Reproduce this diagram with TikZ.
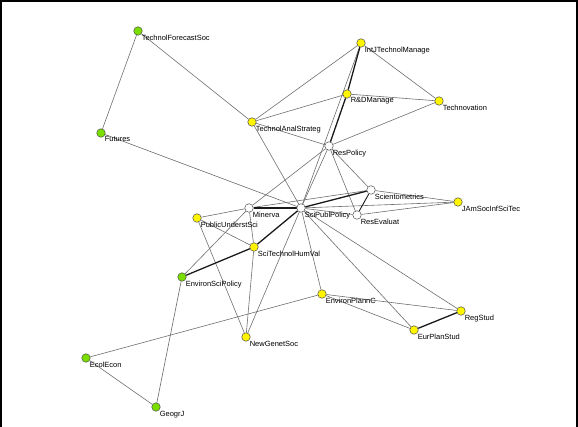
\documentclass[tikz,border=0pt]{standalone}
\usepackage{fontspec}
\setmainfont{Liberation Sans}
\usetikzlibrary{backgrounds}
\definecolor{nodegreen}{RGB}{122,222,0}
\definecolor{nodeyellow}{RGB}{255,245,0}
\definecolor{edgegray}{RGB}{110,110,110}

\begin{document}
\begin{tikzpicture}[x=1pt,y=-1pt,
  jnl/.style={circle,draw=black!70,line width=0.5pt,minimum size=8.5pt,inner sep=0pt},
  grn/.style={jnl,fill=nodegreen},
  yel/.style={jnl,fill=nodeyellow},
  wht/.style={jnl,fill=white},
  lbl/.style={font=\fontsize{7.5}{8}\selectfont,inner sep=0.4pt,text=black},
  link/.style={draw=edgegray,line width=0.6pt},
  strong/.style={draw=black!90,line width=1.3pt}]
\useasboundingbox (0,0) rectangle (578,427);
% frame
\draw[line width=2pt] (1,427) -- (1,1) -- (577,1) -- (577,427);

% Journals
\node[grn,label={[lbl]south east:TechnolForecastSoc}] (TFS) at (138,31) {};
\node[grn,label={[lbl]south east:Futures}] (Fut) at (101,133) {};
\node[yel,label={[lbl]south east:TechnolAnalStrateg}] (TAS) at (252,122) {};
\node[yel,label={[lbl]south east:IntJTechnolManage}] (IJTM) at (361,43) {};
\node[yel,label={[lbl]south east:R\&DManage}] (RDM) at (347,94) {};
\node[yel,label={[lbl]south east:Technovation}] (Tnov) at (439,101) {};
\node[wht,label={[lbl]south east:ResPolicy}] (RP) at (329,146) {};
\node[wht,label={[lbl]south east:Scientometrics}] (Scim) at (371,190) {};
\node[yel,label={[lbl]south east:JAmSocInfSciTec}] (JAm) at (458,202) {};
\node[wht,label={[lbl]south east:ResEvaluat}] (ResE) at (357,215) {};
\node[wht,label={[lbl]south east:SciPublPolicy}] (SPP) at (301,208) {};
\node[wht,label={[lbl]south east:Minerva}] (Min) at (249,208) {};
\node[yel,label={[lbl]south east:PublicUnderstSci}] (PUS) at (197,218) {};
\node[yel,label={[lbl]south east:SciTechnolHumVal}] (STHV) at (254,247) {};
\node[grn,label={[lbl]south east:EnvironSciPolicy}] (ESP) at (182,277) {};
\node[yel,label={[lbl]south east:EnvironPlannC}] (EPC) at (322,294) {};
\node[yel,label={[lbl]south east:NewGenetSoc}] (NGS) at (246,337) {};
\node[yel,label={[lbl]south east:EurPlanStud}] (EPS) at (414,330) {};
\node[yel,label={[lbl]south east:RegStud}] (RegS) at (461,311) {};
\node[grn,label={[lbl]south east:EcolEcon}] (EcE) at (86,358) {};
\node[grn,label={[lbl]south east:GeogrJ}] (GJ) at (156,407) {};

\begin{scope}[on background layer]
% weak links
\draw[link] (TFS) -- (Fut);
\draw[link] (TFS) -- (TAS);
\draw[link] (Fut) -- (SPP);
\draw[link] (TAS) -- (IJTM);
\draw[link] (TAS) -- (RDM);
\draw[link] (TAS) -- (RP);
\draw[link] (TAS) -- (SPP);
\draw[link] (IJTM) -- (Tnov);
\draw[link] (IJTM) -- (SPP);
\draw[link] (RDM) -- (Tnov);
\draw[link] (Tnov) -- (RP);
\draw[link] (RP) -- (SPP);
\draw[link] (RP) -- (Min);
\draw[link] (RP) -- (Scim);
\draw[link] (RP) -- (ResE);
\draw[link] (Min) -- (PUS);
\draw[link] (Min) -- (Scim);
\draw[link] (Min) -- (ESP);
\draw[link] (Min) -- (STHV);
\draw[link] (PUS) -- (STHV);
\draw[link] (PUS) -- (NGS);
\draw[link] (STHV) -- (NGS);
\draw[link] (SPP) -- (NGS);
\draw[link] (SPP) -- (JAm);
\draw[link] (SPP) -- (ResE);
\draw[link] (Scim) -- (JAm);
\draw[link] (ResE) -- (JAm);
\draw[link] (SPP) -- (EPC);
\draw[link] (SPP) -- (EPS);
\draw[link] (SPP) -- (RegS);
\draw[link] (EPC) -- (RegS);
\draw[link] (EPC) -- (EPS);
\draw[link] (EPC) -- (EcE);
\draw[link] (EcE) -- (GJ);
\draw[link] (GJ) -- (ESP);
% strong links
\draw[strong] (IJTM) -- (RDM);
\draw[strong] (RDM) -- (RP);
\draw[strong] (Min) -- (SPP);
\draw[strong] (SPP) -- (Scim);
\draw[strong] (SPP) -- (STHV);
\draw[strong] (STHV) -- (ESP);
\draw[strong] (EPS) -- (RegS);
\draw[strong,line width=0.9pt] (Scim) -- (ResE);
\end{scope}
\end{tikzpicture}
\end{document}
